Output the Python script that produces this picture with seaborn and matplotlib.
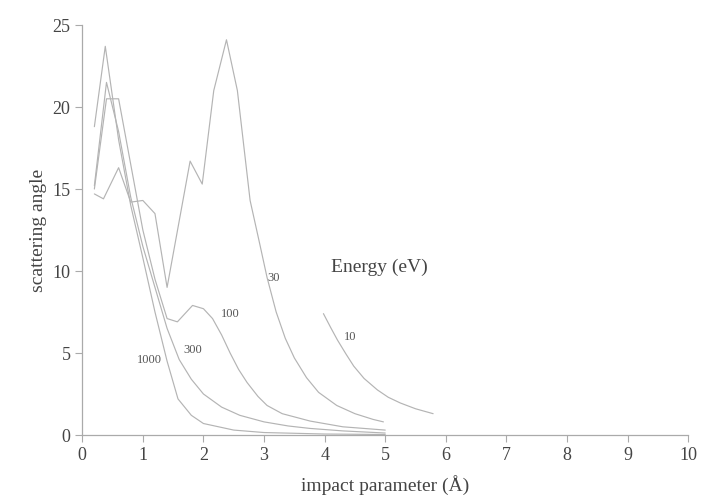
import numpy as np
import pandas as pd
import seaborn as sns
import matplotlib
matplotlib.use("Agg")
import matplotlib.pyplot as plt

# Data (impact parameter in Å, scattering angle)
x_1000 = [0.2, 0.38, 0.6, 0.8, 1.0, 1.2, 1.4, 1.58, 1.8, 2.0, 2.5, 3.0, 4.0, 5.0]
y_1000 = [18.8, 23.7, 18.0, 14.0, 10.8, 7.5, 4.5, 2.2, 1.2, 0.7, 0.3, 0.15, 0.06, 0.03]

x_300 = [0.2, 0.4, 0.6, 0.8, 1.0, 1.2, 1.4, 1.6, 1.8, 2.0, 2.3, 2.6, 3.0, 3.4, 3.76, 4.3, 5.0]
y_300 = [15.2, 21.5, 18.5, 14.5, 11.5, 9.0, 6.5, 4.6, 3.4, 2.5, 1.7, 1.2, 0.8, 0.55, 0.4, 0.25, 0.12]

x_100 = [0.2, 0.4, 0.6, 0.8, 1.0, 1.2, 1.4, 1.57, 1.82, 2.0, 2.15, 2.3, 2.44, 2.58, 2.72, 2.9, 3.05, 3.3, 3.76, 4.3, 5.0]
y_100 = [15.0, 20.5, 20.5, 16.5, 12.5, 9.5, 7.1, 6.9, 7.9, 7.7, 7.1, 6.1, 5.0, 4.0, 3.2, 2.35, 1.8, 1.3, 0.85, 0.5, 0.3]

x_30 = [0.2, 0.35, 0.6, 0.8, 1.0, 1.2, 1.4, 1.78, 1.98, 2.17, 2.38, 2.56, 2.77, 2.92, 3.05, 3.2, 3.35, 3.5, 3.7, 3.9, 4.2, 4.5, 4.8, 4.97]
y_30 = [14.7, 14.4, 16.3, 14.2, 14.3, 13.5, 9.0, 16.7, 15.3, 21.0, 24.1, 21.0, 14.3, 11.8, 9.6, 7.5, 5.9, 4.7, 3.5, 2.6, 1.8, 1.3, 0.95, 0.8]

x_10 = [3.98, 4.1, 4.21, 4.35, 4.48, 4.65, 4.87, 5.05, 5.25, 5.5, 5.79]
y_10 = [7.4, 6.55, 5.8, 4.95, 4.2, 3.45, 2.75, 2.3, 1.95, 1.6, 1.3]

energies = ["1000", "300", "100", "30", "10"]
xs = [x_1000, x_300, x_100, x_30, x_10]
ys = [y_1000, y_300, y_100, y_30, y_10]

# label positions for each curve
label_x = [1.11, 1.83, 2.44, 3.15, 4.42]
label_y = [4.6, 5.2, 7.4, 9.6, 6.0]

frames = []
for e, xv, yv in zip(energies, xs, ys):
    frames.append(pd.DataFrame({"b": xv, "theta": yv, "E": e}))
df = pd.concat(frames, ignore_index=True)

sns.set_style("white")
plt.rcParams["font.family"] = ["Liberation Serif", "DejaVu Serif"]

fig = plt.figure(figsize=(7.03, 5.00), dpi=100)
ax = fig.add_axes([0.117, 0.13, 0.862, 0.82])

palette = {e: "#b4b4b4" for e in energies}
sns.lineplot(data=df, x="b", y="theta", hue="E", palette=palette, estimator=None,
             sort=False, legend=False, linewidth=0.85, ax=ax)

for e, lx, ly in zip(energies, label_x, label_y):
    ax.text(lx, ly, e, fontsize=9, color="#555555", ha="center", va="center")

ax.text(4.1, 10.2, "Energy (eV)", fontsize=14, color="#444444", ha="left", va="center")

ax.set_xlim(0, 10)
ax.set_ylim(0, 25)
ax.set_xticks(range(0, 11))
ax.set_yticks([0, 5, 10, 15, 20, 25])
ax.set_xlabel("impact parameter (Å)", fontsize=14, color="#444444", labelpad=8)
ax.set_ylabel("scattering angle", fontsize=14, color="#444444")

for s in ["top", "right"]:
    ax.spines[s].set_visible(False)
for s in ["left", "bottom"]:
    ax.spines[s].set_color("#aaaaaa")
    ax.spines[s].set_linewidth(0.9)
ax.tick_params(axis="both", direction="out", length=5, width=0.8, color="#aaaaaa",
               labelsize=13, labelcolor="#444444", bottom=True, left=True)

fig.savefig("out.png", dpi=100)
